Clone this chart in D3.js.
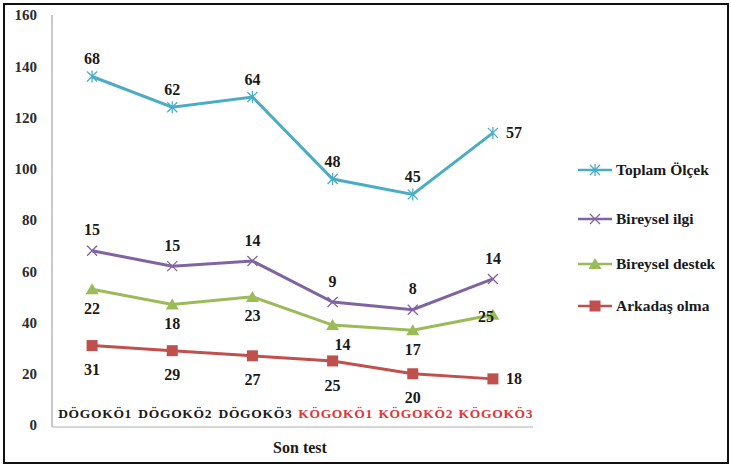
<!DOCTYPE html>
<html>
<head>
<meta charset="utf-8">
<script src="https://cdn.jsdelivr.net/npm/d3@7"></script>
<style>
  body { margin: 0; background: #fff; }
  svg text { font-family: "Liberation Serif", "Times New Roman", serif; font-weight: bold; }
</style>
</head>
<body>
<svg id="chart"></svg>
<script>
// categories (x axis)
const categories = ["DÖGOKÖ1", "DÖGOKÖ2", "DÖGOKÖ3", "KÖGOKÖ1", "KÖGOKÖ2", "KÖGOKÖ3"];
const redCategories = ["KÖGOKÖ1", "KÖGOKÖ2", "KÖGOKÖ3"];

// series values (stacked line chart, bottom series first)
const arkadasOlma = [31, 29, 27, 25, 20, 18];
const bireyselDestek = [22, 18, 23, 14, 17, 25];
const bireyselIlgi = [15, 15, 14, 9, 8, 14];
const toplamOlcek = [68, 62, 64, 48, 45, 57];

const yTicks = [0, 20, 40, 60, 80, 100, 120, 140, 160];
const xTitle = "Son test";

const width = 731, height = 468;

// label placement is style, kept apart from the values
const series = [
  { key: "Arkadaş olma", values: arkadasOlma, color: "#c0504d", marker: "square", gap: 24,
    labels: ["below","below","below","below","below","right"] },
  { key: "Bireysel destek", values: bireyselDestek, color: "#9bbb59", marker: "triangle", gap: 19,
    labels: ["below","below","below","belowRight","below","left"] },
  { key: "Bireysel ilgi", values: bireyselIlgi, color: "#8064a2", marker: "x", gap: 21,
    labels: ["above","above","above","above","above","above"] },
  { key: "Toplam Ölçek", values: toplamOlcek, color: "#4bacc6", marker: "star", gap: 18,
    labels: ["above","above","above","above","above","right"] }
];

// stacked values
const table = categories.map((c, i) => {
  const row = { cat: c };
  series.forEach(s => row[s.key] = s.values[i]);
  return row;
});
const stacked = d3.stack().keys(series.map(s => s.key))(table);

const svg = d3.select("#chart").attr("width", width).attr("height", height);

// outer frame
svg.append("rect")
  .attr("x", 4).attr("y", 4).attr("width", 724).attr("height", 459)
  .attr("fill", "#fff").attr("stroke", "#111").attr("stroke-width", 2);

const x = d3.scaleBand().domain(categories).range([52, 533]);
const y = d3.scaleLinear().domain([0, 160]).range([425, 15]);
const cx = d => x(d) + x.bandwidth() / 2;

// y axis
svg.append("line").attr("x1", 52).attr("x2", 52).attr("y1", 15).attr("y2", 427)
  .attr("stroke", "#a6a6a6").attr("stroke-width", 1.2);
svg.append("g").selectAll("text").data(yTicks).join("text")
  .attr("x", 37).attr("y", d => y(d)).attr("dy", "0.35em")
  .attr("text-anchor", "end").attr("font-size", 15).attr("fill", "#2b2b2b")
  .text(d => d);

// x axis
svg.append("line").attr("x1", 52).attr("x2", 533).attr("y1", 427).attr("y2", 427)
  .attr("stroke", "#b0b0b0").attr("stroke-width", 1.2);
svg.append("g").selectAll("text").data(categories).join("text")
  .attr("x", d => cx(d) + 3).attr("y", 418)
  .attr("text-anchor", "middle").attr("font-size", 13.5)
  .attr("letter-spacing", 0.7)
  .attr("fill", d => redCategories.includes(d) ? "#dc383c" : "#1a1a1a")
  .text(d => d);
svg.append("text").attr("x", 300).attr("y", 453).attr("text-anchor", "middle")
  .attr("font-size", 16).attr("fill", "#1a1a1a").text(xTitle);

function drawMarker(g, type, color) {
  if (type === "square") {
    g.append("rect").attr("x", -5.5).attr("y", -5.5).attr("width", 11).attr("height", 11).attr("fill", color);
  } else if (type === "triangle") {
    g.append("path").attr("d", "M0,-6L6.5,5L-6.5,5Z").attr("fill", color);
  } else if (type === "x") {
    g.append("path").attr("d", "M-5,-5L5,5M-5,5L5,-5").attr("stroke", color).attr("stroke-width", 1.3).attr("fill", "none");
  } else {
    g.append("path").attr("d", "M-5,-5L5,5M-5,5L5,-5M0,-6L0,6").attr("stroke", color).attr("stroke-width", 1.3).attr("fill", "none");
  }
}

const line = d3.line().x(d => cx(d.data.cat)).y(d => y(d[1]));

const plot = svg.append("g");
stacked.forEach((layer, si) => {
  const s = series[si];
  plot.append("path").datum(layer).attr("d", line)
    .attr("fill", "none").attr("stroke", s.color).attr("stroke-width", 3);
  layer.forEach(d => {
    const g = plot.append("g").attr("transform", `translate(${cx(d.data.cat)},${y(d[1])})`);
    drawMarker(g, s.marker, s.color);
  });
});

// data labels
const labels = svg.append("g");
stacked.forEach((layer, si) => {
  const s = series[si];
  layer.forEach((d, i) => {
    const px = cx(d.data.cat), py = y(d[1]);
    const pos = s.labels[i];
    let lx = px, ly = py, anchor = "middle";
    if (pos === "above") ly = py - s.gap;
    if (pos === "below") ly = py + s.gap;
    if (pos === "belowRight") { ly = py + s.gap; lx = px + 10; }
    if (pos === "right") { lx = px + 13; anchor = "start"; }
    if (pos === "left") { lx = px + 1; ly = py + 2; anchor = "end"; }
    labels.append("text").attr("x", lx).attr("y", ly).attr("dy", "0.35em")
      .attr("text-anchor", anchor).attr("font-size", 16).attr("fill", "#1a1a1a")
      .text(s.values[i]);
  });
});

// legend
const legend = svg.append("g");
series.slice().reverse().forEach((s, i) => {
  const ly = [170, 219, 264, 306][i];
  const g = legend.append("g").attr("transform", `translate(0,${ly})`);
  g.append("line").attr("x1", 578).attr("x2", 612).attr("stroke", s.color).attr("stroke-width", 2.5);
  const m = g.append("g").attr("transform", "translate(595,0)");
  drawMarker(m, s.marker, s.color);
  g.append("text").attr("x", 616).attr("y", 0).attr("dy", "0.35em")
    .attr("font-size", 15.5).attr("fill", "#1a1a1a").text(s.key);
});
</script>
</body>
</html>
